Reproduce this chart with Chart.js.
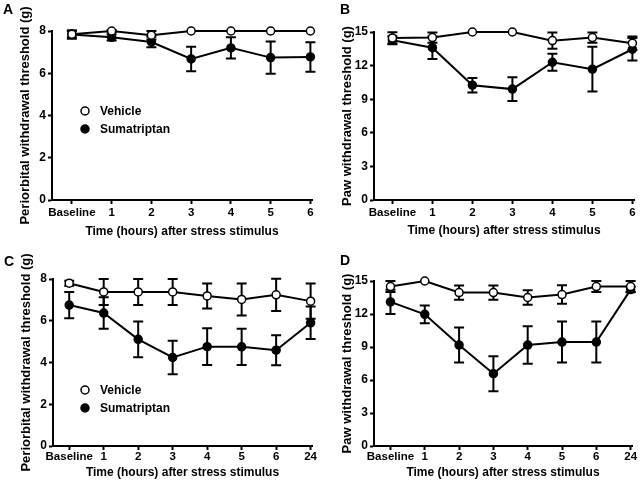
<!DOCTYPE html>
<html>
<head>
<meta charset="utf-8">
<script src="https://cdn.jsdelivr.net/npm/chart.js@4.4.1/dist/chart.umd.min.js"></script>
<style>
  html, body { margin: 0; padding: 0; background: #fff; }
  #wrap { position: relative; width: 640px; height: 483px; overflow: hidden; }
  canvas { position: absolute; }
</style>
</head>
<body>
<div id="wrap">
  <canvas id="chartA" width="320" height="240" style="left:0;top:0"></canvas>
  <canvas id="chartB" width="320" height="240" style="left:320px;top:0"></canvas>
  <canvas id="chartC" width="320" height="243" style="left:0;top:240px"></canvas>
  <canvas id="chartD" width="320" height="243" style="left:320px;top:240px"></canvas>
</div>
<script>
// x categories
const hours6 = ['Baseline', '1', '2', '3', '4', '5', '6'];
const hours24 = ['Baseline', '1', '2', '3', '4', '5', '6', '24'];

// A - periorbital, 6 h
const vehicleA = [7.85, 8.0, 7.8, 8.0, 8.0, 8.0, 8.0];
const vehicleAErr = [0.15, 0.05, 0.2, 0, 0, 0, 0];
const sumaA = [7.83, 7.7, 7.48, 6.68, 7.2, 6.74, 6.77];
const sumaAErr = [0.2, 0.15, 0.25, 0.58, 0.5, 0.76, 0.7];

// B - paw, 6 h
const vehicleB = [14.47, 14.5, 15.0, 15.0, 14.23, 14.5, 14.0];
const vehicleBErr = [0.5, 0.45, 0, 0, 0.73, 0.45, 0.6];
const sumaB = [14.26, 13.6, 10.25, 9.9, 12.3, 11.68, 13.46];
const sumaBErr = [0.35, 1.0, 0.65, 1.05, 0.75, 2.0, 1.0];

// C - periorbital, 24 h
const vehicleC = [7.8, 7.38, 7.38, 7.38, 7.19, 7.02, 7.24, 6.94];
const vehicleCErr = [0.12, 0.62, 0.62, 0.62, 0.6, 0.77, 0.77, 0.85];
const sumaC = [6.75, 6.37, 5.11, 4.24, 4.76, 4.75, 4.59, 5.9];
const sumaCErr = [0.63, 0.75, 0.86, 0.8, 0.88, 0.87, 0.72, 0.78];

// D - paw, 24 h
const vehicleD = [14.49, 15.0, 13.95, 13.95, 13.5, 13.77, 14.49, 14.49];
const vehicleDErr = [0.5, 0, 0.65, 0.65, 0.67, 0.84, 0.5, 0.5];
const sumaD = [13.1, 11.97, 9.18, 6.57, 9.18, 9.45, 9.45, 14.22];
const sumaDErr = [1.1, 0.8, 1.6, 1.6, 1.7, 1.86, 1.87, 0.25];

const FONT = 'Liberation Sans, Arial, Helvetica, sans-serif';

// error bars (drawn under the lines and markers)
const errorBars = {
    id: 'errorBars',
    beforeDatasetsDraw(chart) {
        const ctx = chart.ctx;
        const y = chart.scales.y;
        ctx.save();
        ctx.strokeStyle = '#000';
        ctx.lineWidth = 2;
        chart.data.datasets.forEach((ds, i) => {
            const meta = chart.getDatasetMeta(i);
            meta.data.forEach((pt, j) => {
                const e = ds.errors[j];
                if (!e) return;
                const v = ds.data[j].y;
                const top = y.getPixelForValue(v + e);
                const bot = y.getPixelForValue(v - e);
                ctx.beginPath();
                ctx.moveTo(pt.x, top); ctx.lineTo(pt.x, bot);
                ctx.moveTo(pt.x - 5, top); ctx.lineTo(pt.x + 5, top);
                ctx.moveTo(pt.x - 5, bot); ctx.lineTo(pt.x + 5, bot);
                ctx.stroke();
            });
        });
        ctx.restore();
    }
};

// panel letter + inline legend
const extras = {
    id: 'extras',
    afterDraw(chart, args, opts) {
        const ctx = chart.ctx;
        const area = chart.chartArea;
        ctx.save();
        ctx.fillStyle = '#000';
        ctx.font = 'bold 14px ' + FONT;
        ctx.textBaseline = 'alphabetic';
        ctx.fillText(opts.letter, opts.letterX, opts.letterY);
        if (opts.legend) {
            const items = [['Vehicle', '#fff'], ['Sumatriptan', '#000']];
            ctx.font = 'bold 12px ' + FONT;
            ctx.textBaseline = 'middle';
            items.forEach((it, k) => {
                const cx = area.left + opts.legend.dx;
                const cy = area.top + opts.legend.dy + k * 18;
                ctx.beginPath();
                ctx.arc(cx, cy, 4, 0, Math.PI * 2);
                ctx.fillStyle = it[1];
                ctx.fill();
                ctx.lineWidth = 1.5;
                ctx.strokeStyle = '#000';
                ctx.stroke();
                ctx.fillStyle = '#000';
                ctx.fillText(it[0], cx + 15, cy + 1);
            });
        }
        ctx.restore();
    }
};

function makePanel(id, p) {
    const series = (vals, errs, label, fill, order) => ({
        label: label,
        data: vals.map((v, i) => ({ x: i, y: v })),
        errors: errs,
        borderColor: '#000',
        borderWidth: 2,
        pointRadius: 4,
        pointBorderWidth: 1.5,
        pointBackgroundColor: fill,
        pointBorderColor: '#000',
        clip: false,
        order: order
    });

    return new Chart(document.getElementById(id), {
        type: 'line',
        data: {
            datasets: [
                series(p.vehicle, p.vehicleErr, 'Vehicle', '#fff', 0),
                series(p.suma, p.sumaErr, 'Sumatriptan', '#000', 1)
            ]
        },
        options: {
            responsive: false,
            animation: false,
            layout: { padding: { left: 0, top: p.top, right: p.w - p.right, bottom: 0 } },
            plugins: {
                legend: { display: false },
                tooltip: { enabled: false },
                extras: { letter: p.letter, letterX: p.letterX, letterY: p.letterY, legend: p.legend }
            },
            scales: {
                x: {
                    type: 'linear',
                    min: -p.lead,
                    max: p.labels.length - 1 + 0.04,
                    afterBuildTicks: s => { s.ticks = p.labels.map((l, i) => ({ value: i })); },
                    afterFit: s => { s.height = p.h - p.bottom; },
                    ticks: {
                        callback: v => p.labels[v],
                        color: '#000',
                        font: { family: FONT, size: 11.5, weight: 'bold' },
                        padding: p.xTickPad,
                        autoSkip: false,
                        maxRotation: 0
                    },
                    grid: { drawOnChartArea: false, drawTicks: true, tickLength: 4, tickWidth: 2, tickColor: '#000' },
                    border: { display: true, color: '#000', width: 2 },
                    title: {
                        display: true,
                        text: 'Time (hours) after stress stimulus',
                        color: '#000',
                        font: { family: FONT, size: 12, weight: 'bold' },
                        padding: { top: 0, bottom: p.xTitlePad }
                    }
                },
                y: {
                    min: 0,
                    max: p.yMax,
                    afterFit: s => { s.width = p.left; },
                    ticks: {
                        stepSize: p.yStep,
                        color: '#000',
                        font: { family: FONT, size: 12, weight: 'bold' },
                        padding: 2
                    },
                    grid: { drawOnChartArea: false, drawTicks: true, tickLength: 4, tickWidth: 2, tickColor: '#000' },
                    border: { display: true, color: '#000', width: 2 },
                    title: {
                        display: true,
                        text: p.yTitle,
                        color: '#000',
                        font: { family: FONT, size: 13, weight: 'bold' },
                        padding: { top: p.yTitlePad, bottom: 0 }
                    }
                }
            }
        },
        plugins: [errorBars, extras]
    });
}

document.addEventListener('DOMContentLoaded', function () {
    makePanel('chartA', {
        w: 320, h: 240, left: 52, right: 312, top: 31, bottom: 200,
        labels: hours6, lead: 0.5, yMax: 8, yStep: 2,
        yTitle: 'Periorbital withdrawal threshold (g)',
        vehicle: vehicleA, vehicleErr: vehicleAErr, suma: sumaA, sumaErr: sumaAErr,
        xTickPad: 2, xTitlePad: 1, yTitlePad: 18,
        letter: 'A', letterX: 3, letterY: 14,
        legend: { dx: 33, dy: 80 }
    });
    makePanel('chartB', {
        w: 320, h: 240, left: 54, right: 314, top: 32, bottom: 200,
        labels: hours6, lead: 0.46, yMax: 15, yStep: 3,
        yTitle: 'Paw withdrawal threshold (g)',
        vehicle: vehicleB, vehicleErr: vehicleBErr, suma: sumaB, sumaErr: sumaBErr,
        xTickPad: 2, xTitlePad: 2, yTitlePad: 20,
        letter: 'B', letterX: 20, letterY: 14,
        legend: null
    });
    makePanel('chartC', {
        w: 320, h: 243, left: 53, right: 312, top: 39, bottom: 206,
        labels: hours24, lead: 0.47, yMax: 8, yStep: 2,
        yTitle: 'Periorbital withdrawal threshold (g)',
        vehicle: vehicleC, vehicleErr: vehicleCErr, suma: sumaC, sumaErr: sumaCErr,
        xTickPad: 0, xTitlePad: 3, yTitlePad: 19,
        letter: 'C', letterX: 4, letterY: 26,
        legend: { dx: 32, dy: 111 }
    });
    makePanel('chartD', {
        w: 320, h: 243, left: 54, right: 312, top: 41, bottom: 206,
        labels: hours24, lead: 0.48, yMax: 15, yStep: 3,
        yTitle: 'Paw withdrawal threshold (g)',
        vehicle: vehicleD, vehicleErr: vehicleDErr, suma: sumaD, sumaErr: sumaDErr,
        xTickPad: 0, xTitlePad: 3, yTitlePad: 20,
        letter: 'D', letterX: 20, letterY: 25,
        legend: null
    });
});
</script>
</body>
</html>
